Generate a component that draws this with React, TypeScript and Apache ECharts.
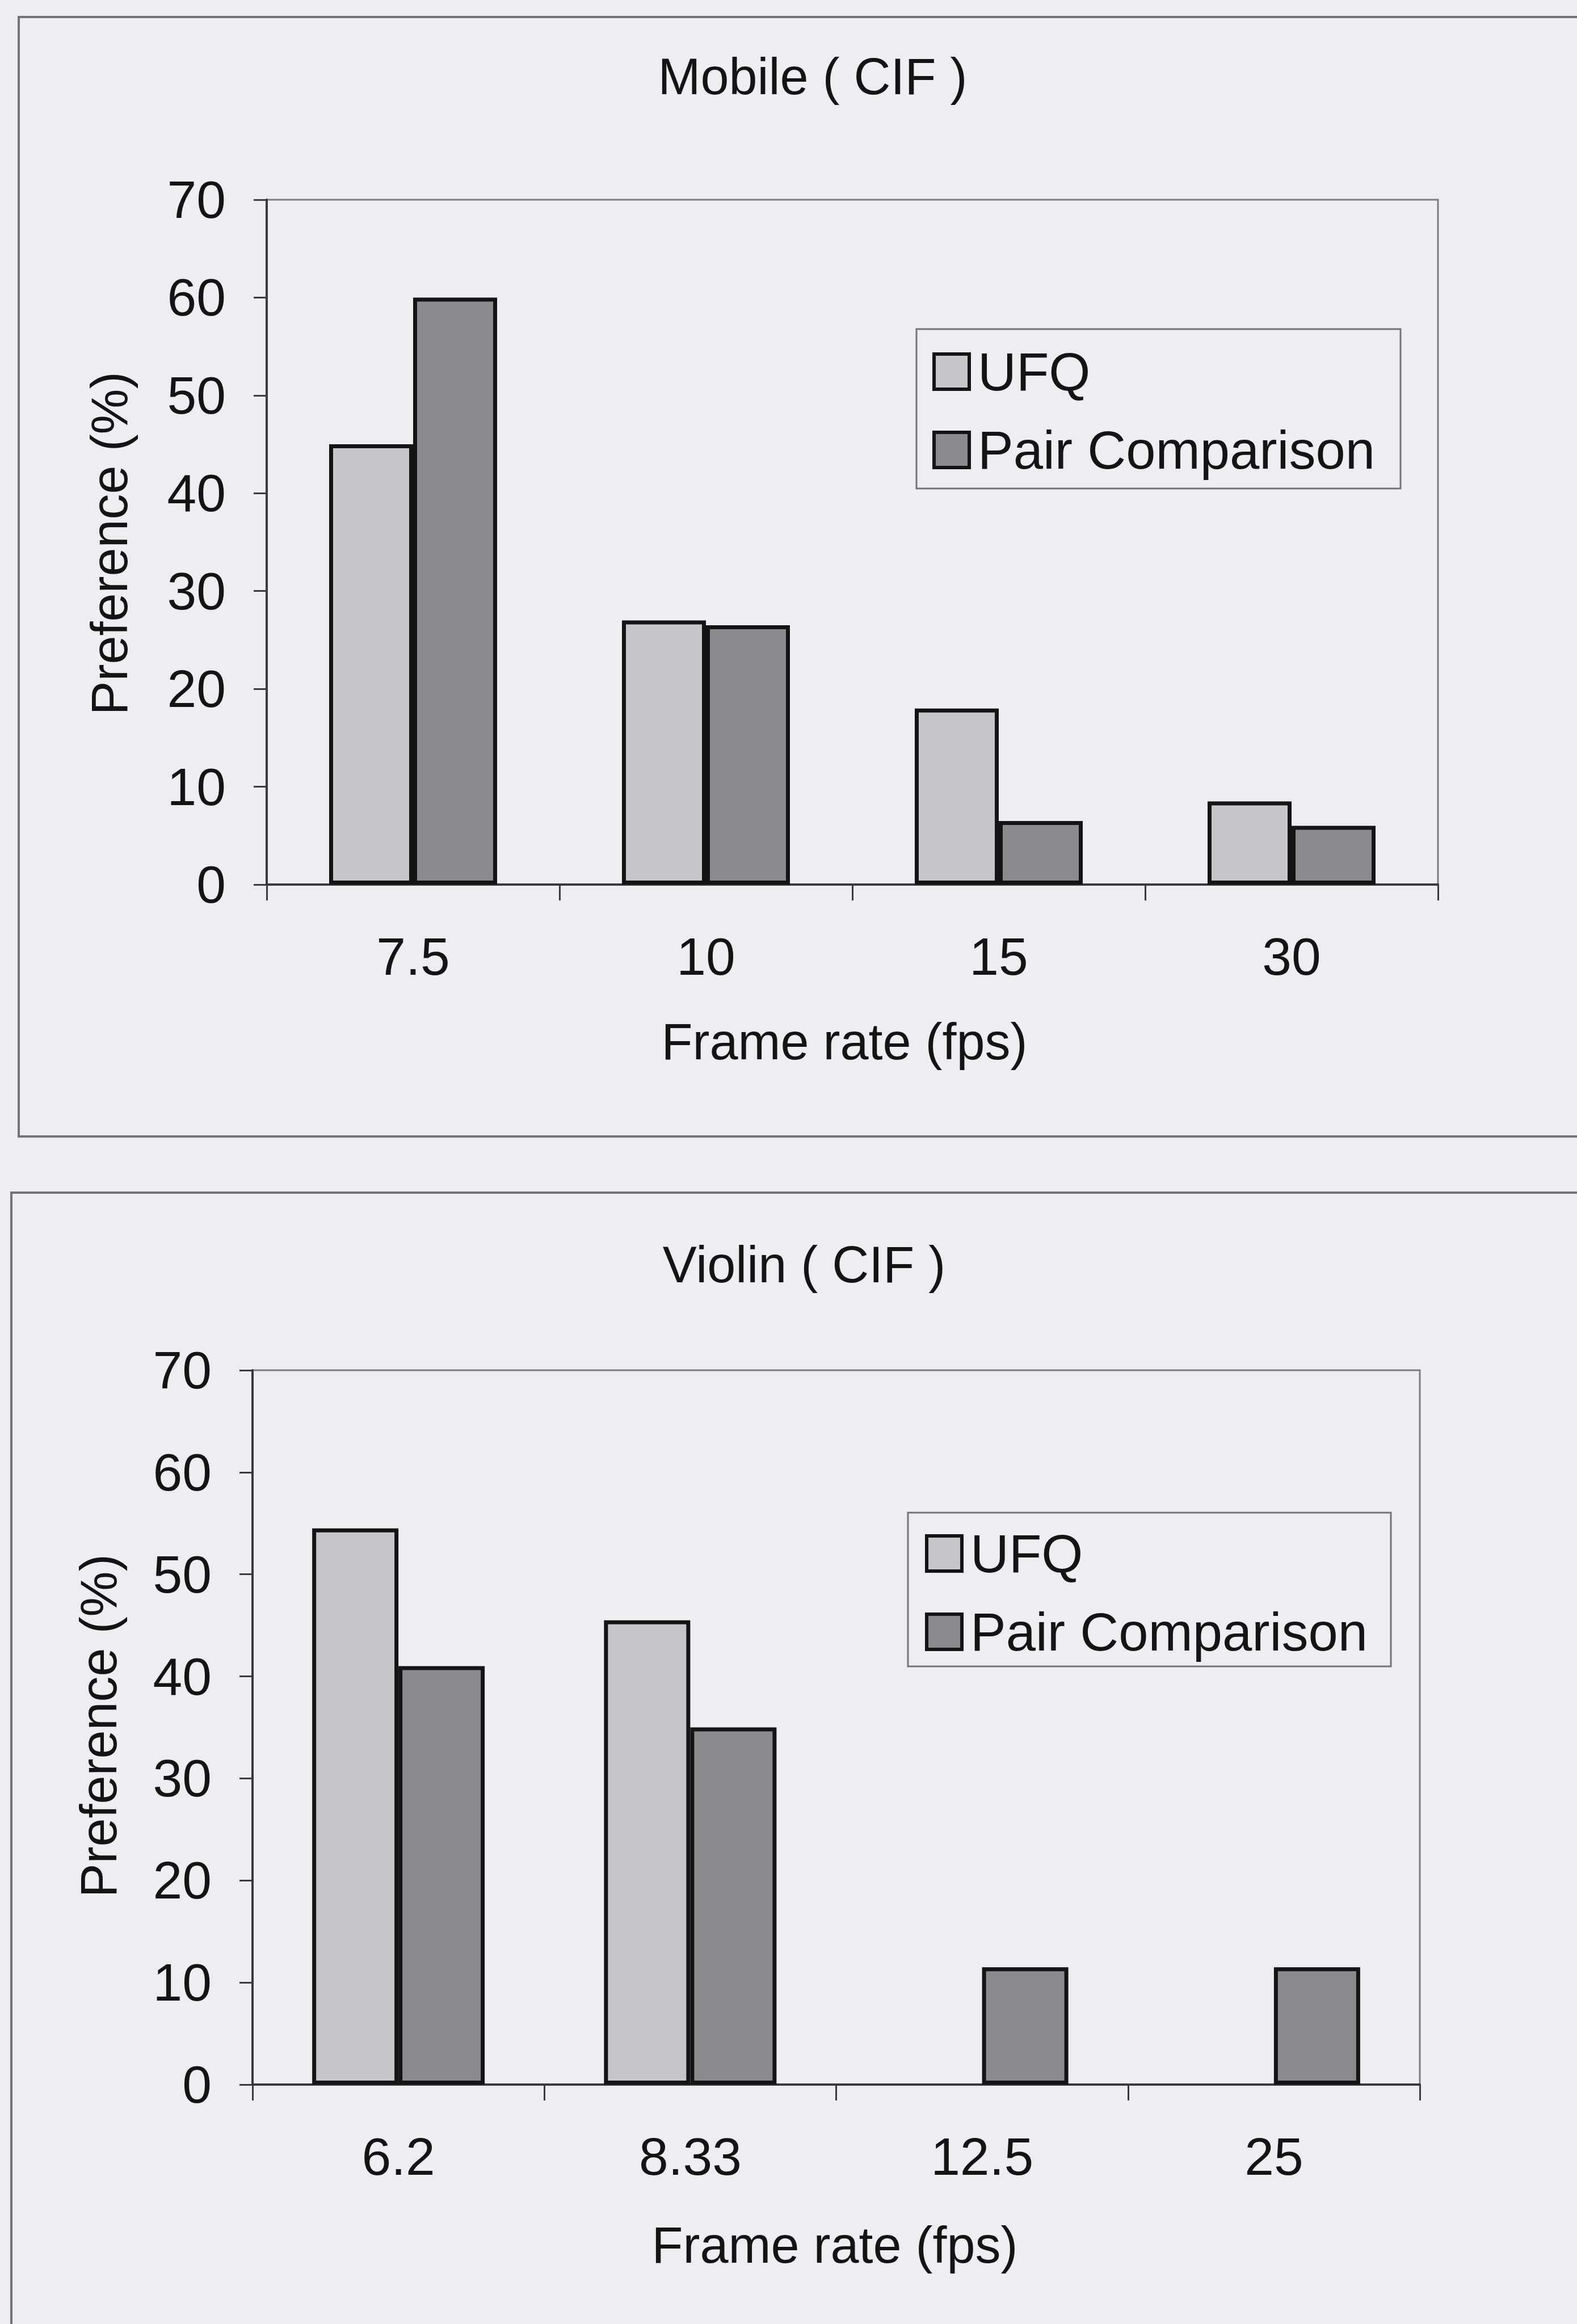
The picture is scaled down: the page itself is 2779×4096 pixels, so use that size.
import React, { useEffect, useRef } from "react";
import * as echarts from "echarts";

// Frame-rate categories and preference percentages for the two clips
const mobileRates = ["7.5", "10", "15", "30"];
const mobileUFQ = [45, 27, 18, 8.5];
const mobilePair = [60, 26.5, 6.5, 6];

const violinRates = ["6.2", "8.33", "12.5", "25"];
const violinUFQ = [54.5, 45.5, 0, 0];
const violinPair = [41, 35, 11.5, 11.5];

const seriesNames = ["UFQ", "Pair Comparison"];
const chartTitles = ["Mobile ( CIF )", "Violin ( CIF )"];
const xAxisTitle = "Frame rate (fps)";
const yAxisTitle = "Preference (%)";

const W = 2779;
const H = 4096;
const FONT = "'Liberation Sans', Arial, Helvetica, sans-serif";
const INK = "#141414";
const PAPER = "#eeedf1";
const UFQ_FILL = "#c7c6cb";
const PAIR_FILL = "#8b8a8f";
const FRAME = "#747478";

// Panel geometry (px)
const panels = [
  {
    frame: { x: 33, y: 30, w: 2800, h: 1973 },
    title: { x: 1432, y: 135 },
    grid: { left: 470, top: 352, width: 2064, height: 1207 },
    yName: { x: 193, y: 958 },
    xName: { x: 1488, y: 1836 },
    legendBox: { x: 1615, y: 580, w: 853, h: 281 },
    legend: { left: 1643, top: 608 },
    barWidth: 148,
  },
  {
    frame: { x: 20, y: 2102, w: 2820, h: 2100 },
    title: { x: 1417, y: 2229 },
    grid: { left: 445, top: 2415, width: 2057, height: 1259 },
    yName: { x: 174, y: 3042 },
    xName: { x: 1471, y: 3957 },
    legendBox: { x: 1600, y: 2666, w: 851, h: 271 },
    legend: { left: 1630, top: 2691 },
    barWidth: 152,
  },
];

function textEl(text: string, x: number, y: number, size: number, rotation = 0) {
  return {
    type: "text",
    x,
    y,
    rotation,
    z: 10,
    style: {
      text,
      fontSize: size,
      fontFamily: FONT,
      fill: INK,
      align: "center",
      verticalAlign: "middle",
      textAlign: "center",
      textVerticalAlign: "middle",
    },
  };
}

function barData(values: number[]) {
  return values.map((v) =>
    v === 0 ? { value: v, itemStyle: { borderWidth: 0 } } : v
  );
}

export default function App() {
  const ref = useRef<HTMLDivElement>(null);

  useEffect(() => {
    if (!ref.current) return;
    const chart = echarts.init(ref.current, null, { renderer: "svg" });

    const categories = [mobileRates, violinRates];
    const ufq = [mobileUFQ, violinUFQ];
    const pair = [mobilePair, violinPair];

    const graphics: any[] = [];
    panels.forEach((p, i) => {
      graphics.push({
        type: "rect",
        z: 0,
        shape: { x: p.frame.x, y: p.frame.y, width: p.frame.w, height: p.frame.h },
        style: { fill: "none", stroke: FRAME, lineWidth: 4 },
      });
      graphics.push({
        type: "rect",
        z: 5,
        shape: { x: p.legendBox.x, y: p.legendBox.y, width: p.legendBox.w, height: p.legendBox.h },
        style: { fill: "none", stroke: FRAME, lineWidth: 3 },
      });
      graphics.push(textEl(chartTitles[i], p.title.x, p.title.y, 90));
      graphics.push(textEl(xAxisTitle, p.xName.x, p.xName.y, 90));
      graphics.push(textEl(yAxisTitle, p.yName.x, p.yName.y, 90, Math.PI / 2));
    });

    const option: any = {
      animation: false,
      backgroundColor: PAPER,
      textStyle: { fontFamily: FONT },
      grid: panels.map((p) => ({
        ...p.grid,
        show: true,
        backgroundColor: "transparent",
        borderColor: "#7c7c80",
        borderWidth: 3,
        containLabel: false,
      })),
      xAxis: panels.map((p, i) => ({
        type: "category",
        gridIndex: i,
        data: categories[i],
        boundaryGap: true,
        axisLine: { show: true, lineStyle: { color: "#3a3a3e", width: 4 } },
        axisTick: { show: true, inside: false, length: 28, interval: 0, lineStyle: { color: "#3a3a3e", width: 3 } },
        axisLabel: { show: true, margin: 80, fontSize: 93, color: INK, fontFamily: FONT, interval: 0 },
        splitLine: { show: false },
      })),
      yAxis: panels.map((p, i) => ({
        type: "value",
        gridIndex: i,
        min: 0,
        max: 70,
        interval: 10,
        axisLine: { show: true, lineStyle: { color: "#3a3a3e", width: 4 } },
        axisTick: { show: true, inside: false, length: 23, lineStyle: { color: "#3a3a3e", width: 3 } },
        axisLabel: { show: true, margin: 72, fontSize: 93, color: INK, fontFamily: FONT },
        splitLine: { show: false },
      })),
      legend: panels.map((p) => ({
        data: seriesNames,
        orient: "vertical",
        left: p.legend.left,
        top: p.legend.top,
        padding: 0,
        itemWidth: 62,
        itemHeight: 62,
        itemGap: 44,
        icon: "rect",
        selectedMode: false,
        itemStyle: { borderColor: INK, borderWidth: 6 },
        textStyle: { fontSize: 94, lineHeight: 92, color: INK, fontFamily: FONT, padding: [0, 0, 0, 10] },
      })),
      series: panels.flatMap((p, i) => [
        {
          name: seriesNames[0],
          type: "bar",
          xAxisIndex: i,
          yAxisIndex: i,
          data: barData(ufq[i]),
          barWidth: p.barWidth,
          barGap: "0%",
          itemStyle: { color: UFQ_FILL, borderColor: INK, borderWidth: 7 },
        },
        {
          name: seriesNames[1],
          type: "bar",
          xAxisIndex: i,
          yAxisIndex: i,
          data: barData(pair[i]),
          barWidth: p.barWidth,
          barGap: "0%",
          itemStyle: { color: PAIR_FILL, borderColor: INK, borderWidth: 7 },
        },
      ]),
      graphic: graphics,
    };

    chart.setOption(option);
    return () => chart.dispose();
  }, []);

  return (
    <div
      ref={ref}
      style={{ position: "absolute", left: 0, top: 0, width: W, height: H, background: PAPER, overflow: "hidden" }}
    />
  );
}
